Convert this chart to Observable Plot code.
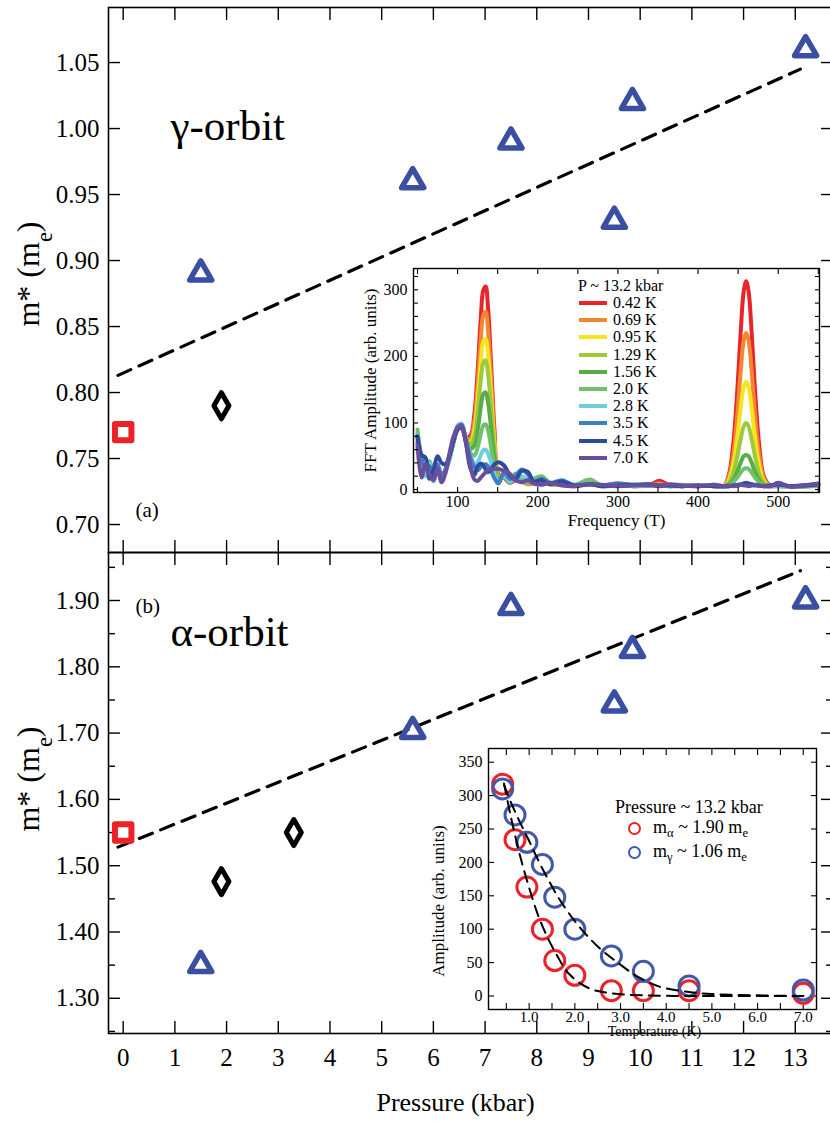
<!DOCTYPE html>
<html><head><meta charset="utf-8">
<script src="https://cdn.jsdelivr.net/npm/d3@7"></script>
<script src="https://cdn.jsdelivr.net/npm/@observablehq/plot@0.6"></script>
<style>
html,body{margin:0;padding:0;background:#fff;}
#fig{position:relative;width:830px;height:1130px;overflow:hidden;background:#fff;font-family:"Liberation Serif","Times New Roman",serif;color:#000;}
.leg{position:absolute;font-family:"Liberation Serif",serif;color:#000;white-space:nowrap;line-height:1;transform:translateY(-50%);}
.sub{font-size:70%;vertical-align:-0.3em;}
</style></head><body><div id="fig"></div>
<script>
// ---------- tick values ----------
const pressureTicks = [0,1,2,3,4,5,6,7,8,9,10,11,12,13];
const gammaTicks = [0.70,0.75,0.80,0.85,0.90,0.95,1.00,1.05];
const alphaTicks = [1.30,1.40,1.50,1.60,1.70,1.80,1.90];
const alphaMinor = [1.25,1.35,1.45,1.55,1.65,1.75,1.85,1.95];

// ---------- panel (a): gamma orbit ----------
const gSquareP = [0], gSquareM = [0.77];
const gDiamondP = [1.9], gDiamondM = [0.79];
const gTriP = [1.5, 5.6, 7.5, 9.5, 9.85, 13.2];
const gTriM = [0.89, 0.96, 0.99, 0.93, 1.02, 1.06];
const gFitP = [-0.1, 13.1], gFitM = [0.813, 1.045];

// ---------- panel (b): alpha orbit ----------
const aSquareP = [0], aSquareM = [1.55];
const aDiamondP = [1.9, 3.3], aDiamondM = [1.476, 1.55];
const aTriP = [1.5, 5.6, 7.5, 9.5, 9.85, 13.2];
const aTriM = [1.35, 1.703, 1.89, 1.743, 1.825, 1.90];
const aFitP = [-0.1, 13.1], aFitM = [1.528, 1.945];

// ---------- inset (a): FFT spectra at P ~ 13.2 kbar ----------
const fftTemps = ["0.42 K","0.69 K","0.95 K","1.29 K","1.56 K","2.0 K","2.8 K","3.5 K","4.5 K","7.0 K"];
const fftColors = ["#e8252b","#f5862f","#f4e51f","#9cca3c","#58ad47","#6fc16a","#6ccde1","#3e7ec6","#2c4b9e","#6a4e9e"];
const fftXTicks = [50,100,150,200,250,300,350,400,450,500,550];
const fftXLabels = [100,200,300,400,500];
const fftYTicks = [0,20,40,60,80,100,120,140,160,180,200,220,240,260,280,300,320];
const fftYLabels = [0,100,200,300];
const fftFreqLow = [50,55,60,65,70,75,80,85,90,95,100,105,110];
const fftFreqGamma = [116,121,125,129,132,135,138,142,146,151];
const fftFreqMid = [158,165,172,180,188,195,205,215,230,245,265,280,300,320,340,352,365,380,400,420,432];
const fftFreqAlpha = [438,444,449,453,457,460,463,467,471,476,482];
const fftFreqHigh = [490,500,515,530,550];
const fftLow = [
  [70,40,25,38,18,30,20,30,50,72,90,95,78],
  [72,42,24,40,17,30,19,30,50,72,91,95,78],
  [75,43,23,40,16,30,18,29,49,72,91,96,78],
  [80,44,22,41,15,30,17,29,48,72,92,96,78],
  [84,45,22,42,14,30,16,28,48,72,92,96,78],
  [90,46,21,42,13,31,15,28,47,72,93,97,77],
  [82,44,20,40,12,28,14,27,46,74,96,99,76],
  [78,48,30,35,20,38,22,30,48,73,94,97,75],
  [80,52,48,16,30,50,40,38,52,74,90,93,72],
  [66,18,38,22,14,32,11,25,55,80,93,96,74]
];
const fftGamma = [
  [81,114,178,258,299,305,273,184,90,23],
  [76,102,157,226,262,267,239,162,80,21],
  [71,90,134,191,222,226,202,137,68,19],
  [67,80,116,165,190,194,174,119,60,17],
  [61,66,89,124,143,146,131,90,46,15],
  [55,51,63,84,96,98,89,62,33,12],
  [51,39,41,52,59,60,54,40,23,10],
  [48,33,29,34,37,38,35,27,17,9],
  [32,22,35,39,36,30,26,30,38,41],
  [35,15,13,18,22,26,29,30,31,31]
];
const fftMid = [
  [18,10,14,12,8,10,12,8,7,5,8,6,9,6,7,13,6,5,6,5,5],
  [20,11,16,12,8,12,14,8,7,6,9,5,7,5,6,9,5,6,5,6,5],
  [20,12,18,13,9,12,15,9,7,6,10,6,6,5,6,7,5,6,5,6,4],
  [22,12,20,14,9,13,16,9,8,6,11,6,7,6,6,7,5,6,5,6,4],
  [22,12,22,15,10,14,18,10,8,6,13,6,7,5,6,6,5,6,5,6,4],
  [24,10,24,15,10,16,20,10,9,6,15,6,8,6,8,6,6,7,5,7,5],
  [22,12,18,20,14,12,14,9,10,6,9,5,6,5,6,6,5,6,5,6,4],
  [26,16,20,30,22,12,16,10,14,7,8,6,9,7,6,6,6,5,6,5,5],
  [36,22,15,28,26,12,14,8,12,6,8,5,6,7,8,6,6,5,6,5,5],
  [28,24,14,11,14,9,7,10,6,5,8,7,5,6,7,5,8,6,5,7,5]
];
const fftAlpha = [
  [20,70,150,233,298,313,298,233,150,70,20],
  [17,53,113,175,224,235,224,175,113,53,17],
  [13,38,79,121,154,162,154,121,79,38,13],
  [10,25,50,75,95,100,95,75,50,25,10],
  [7,15,27,40,50,52,50,40,27,15,7],
  [6,11,18,25,31,32,31,25,18,11,6],
  [5,6,6,7,8,8,8,7,6,6,5],
  [5,6,6,7,8,8,8,7,6,6,5],
  [5,6,7,8,9,10,9,8,7,6,5],
  [6,5,6,7,6,6,5,6,7,6,5]
];
const fftHigh = [
  [6,5,4,5,6],[5,6,4,5,6],[5,6,5,4,6],[6,5,5,4,6],[5,6,5,5,6],
  [6,7,5,6,7],[5,6,4,5,6],[6,7,5,5,7],[6,8,5,6,8],[5,10,4,6,9]
];

// ---------- inset (b): amplitude vs temperature ----------
const ampTemps = [0.42,0.69,0.95,1.29,1.56,2.0,2.8,3.5,4.5,7.0];
const ampAlpha = [317,234,163,100,53,31,8,8,8,4];
const ampGamma = [310,271,230,197,148,100,60,37,15,9];
const fitAlphaT = [0.45,0.6,0.8,1.0,1.2,1.4,1.6,1.86,2.3,2.8,3.5,4.5,5.5,7.0];
const fitAlphaA = [318,268,210,162,120,88,62,34,12,4,1,0,0,0];
const fitGammaT = [0.45,0.6,0.8,1.0,1.2,1.42,1.67,2.0,2.3,2.6,2.9,3.3,3.6,3.9,4.5,5.0,6.0,7.0];
const fitGammaA = [316,290,260,232,203,174,144,112,88,68,52,32,21,13,6,3,1,0];
const tempTicks = [0.5,1.0,1.5,2.0,2.5,3.0,3.5,4.0,4.5,5.0,5.5,6.0,6.5,7.0];
const tempLabels = [1,2,3,4,5,6,7];
const ampTicks = [0,50,100,150,200,250,300,350];
const massAlpha = "1.90", massGamma = "1.06", pressureNote = "13.2";

// ---------- helpers ----------
const FONT = "Liberation Serif";
const RED = "#ec2229", BLUE = "#3a4fa1";
const fig = document.getElementById("fig");
const pts = (P, M) => P.map((p, i) => ({p, m: M[i]}));
const style = {background: "none", fontFamily: FONT, color: "#000", overflow: "visible", maxWidth: "none"};

function place(el, left, top) {
  el.style.position = "absolute";
  el.style.left = left + "px";
  el.style.top = top + "px";
  el.style.maxWidth = "none";
  el.style.background = "none";
  fig.appendChild(el);
  subify(el);
}
function subify(svg) {
  svg.querySelectorAll("text").forEach(t => {
    const targets = t.querySelector("tspan") ? Array.from(t.querySelectorAll("tspan")) : [t];
    targets.forEach(el => {
      const s = el.textContent;
      if (!s.includes("_")) return;
      el.textContent = "";
      s.split(/_(.)/).forEach((part, i) => {
        if (!part) return;
        const ts = document.createElementNS("http://www.w3.org/2000/svg", "tspan");
        ts.textContent = part;
        if (i % 2 === 1) { ts.setAttribute("baseline-shift", "sub"); ts.setAttribute("font-size", "70%"); }
        el.appendChild(ts);
      });
    });
  });
}
function ticksY(values, anchor, size, sw = 1.4) {
  return Plot.axisY(values, {anchor, tickSize: size, dx: anchor === "left" ? size : -size, tickFormat: () => "", label: null, strokeWidth: sw});
}
function ticksX(values, anchor, size, sw = 1.4) {
  return Plot.axisX(values, {anchor, tickSize: size, dy: anchor === "bottom" ? -size : size, tickFormat: () => "", label: null, strokeWidth: sw});
}
function markers(sq, dia, tri) {
  return [
    Plot.dot(sq, {x: "p", y: "m", symbol: "square", r: 9.3, stroke: RED, strokeWidth: 6, fill: "none", strokeLinejoin: "round"}),
    Plot.dot(dia, {x: "p", y: "m", symbol: "diamond", r: 7.9, stroke: "#000", strokeWidth: 5, fill: "none", strokeLinejoin: "round"}),
    Plot.dot(tri, {x: "p", y: "m", symbol: "triangle", r: 8.2, stroke: BLUE, strokeWidth: 5.5, fill: "none", strokeLinejoin: "round"})
  ];
}
const xDomain = [-0.284, 13.72];

// ---------- panel (a) ----------
const panelA = Plot.plot({
  width: 832, height: 560, marginLeft: 108, marginRight: 0, marginTop: 7, marginBottom: 8,
  x: {domain: xDomain}, y: {domain: [0.6788, 1.0917]},
  style,
  marks: [
    Plot.frame({stroke: "#000", strokeWidth: 1.6}),
    Plot.axisY(gammaTicks, {anchor: "left", tickSize: 0, tickPadding: 9, fontSize: 25, tickFormat: ".2f", label: null}),
    ticksY(gammaTicks, "left", 12), ticksY(gammaTicks, "right", 12),
    ticksX(pressureTicks, "top", 12), ticksX(pressureTicks, "bottom", 12),
    Plot.line(pts(gFitP, gFitM), {x: "p", y: "m", stroke: "#000", strokeWidth: 3.2, strokeDasharray: "14,9"}),
    ...markers(pts(gSquareP, gSquareM), pts(gDiamondP, gDiamondM), pts(gTriP, gTriM)),
    Plot.text(["γ-orbit"], {frameAnchor: "top-left", dx: 62, dy: 102, fontSize: 43, textAnchor: "start"}),
    Plot.text(["(a)"], {frameAnchor: "bottom-left", dx: 27, dy: -36, fontSize: 21, textAnchor: "start"}),
    Plot.text(["m* (m_e)"], {frameAnchor: "left", textAnchor: "middle", rotate: -90, dx: -80, dy: -6, fontSize: 32})
  ]
});
place(panelA, 0, 0);

// ---------- panel (b) ----------
const panelB = Plot.plot({
  width: 832, height: 586, marginLeft: 108, marginRight: 0, marginTop: 8, marginBottom: 97,
  x: {domain: xDomain}, y: {domain: [1.2469, 1.9724]},
  style,
  marks: [
    Plot.frame({stroke: "#000", strokeWidth: 1.6}),
    Plot.axisY(alphaTicks, {anchor: "left", tickSize: 0, tickPadding: 9, fontSize: 25, tickFormat: ".2f", label: null}),
    ticksY(alphaTicks, "left", 12), ticksY(alphaTicks, "right", 12),
    ticksY(alphaMinor, "left", 7), ticksY(alphaMinor, "right", 7),
    ticksX(pressureTicks, "top", 12), ticksX(pressureTicks, "bottom", 12),
    Plot.axisX(pressureTicks, {anchor: "bottom", tickSize: 0, tickPadding: 15, fontSize: 25, label: null}),
    Plot.line(pts(aFitP, aFitM), {x: "p", y: "m", stroke: "#000", strokeWidth: 3.2, strokeDasharray: "14,9"}),
    ...markers(pts(aSquareP, aSquareM), pts(aDiamondP, aDiamondM), pts(aTriP, aTriM)),
    Plot.text(["α-orbit"], {frameAnchor: "top-left", dx: 62, dy: 63, fontSize: 43, textAnchor: "start"}),
    Plot.text(["(b)"], {frameAnchor: "top-left", dx: 27, dy: 46, fontSize: 21, textAnchor: "start"}),
    Plot.text(["m* (m_e)"], {frameAnchor: "left", textAnchor: "middle", rotate: -90, dx: -80, dy: -14, fontSize: 32}),
    Plot.text(["Pressure (kbar)"], {frameAnchor: "bottom", dx: -15, dy: 77, fontSize: 26})
  ]
});
place(panelB, 0, 544);

// ---------- inset (a): FFT ----------
const fftRows = [];
fftTemps.forEach((t, k) => {
  const F = [...fftFreqLow, ...fftFreqGamma, ...fftFreqMid, ...fftFreqAlpha, ...fftFreqHigh];
  const A = [...fftLow[k], ...fftGamma[k], ...fftMid[k], ...fftAlpha[k], ...fftHigh[k]];
  F.forEach((f, i) => fftRows.push({t, f, a: A[i]}));
});
const inset1 = Plot.plot({
  width: 467, height: 267, marginLeft: 55, marginRight: 6, marginTop: 8, marginBottom: 35,
  x: {domain: [45, 551.5]}, y: {domain: [-4.5, 332]},
  color: {domain: fftTemps, range: fftColors},
  style,
  marks: [
    Plot.line(fftRows, {x: "f", y: "a", z: "t", stroke: "t", strokeWidth: 4, curve: "catmull-rom"}),
    Plot.frame({stroke: "#000", strokeWidth: 1.4}),
    ticksY(fftYTicks, "left", 5, 1.1), ticksY(fftYTicks, "right", 5, 1.1),
    ticksX(fftXTicks, "top", 5, 1.1), ticksX(fftXTicks, "bottom", 5, 1.1),
    Plot.axisY(fftYLabels, {anchor: "left", tickSize: 0, tickPadding: 6, fontSize: 16, label: null}),
    Plot.axisX(fftXLabels, {anchor: "bottom", tickSize: 0, tickPadding: 3, fontSize: 16, label: null}),
    Plot.text(["FFT Amplitude (arb. units)"], {frameAnchor: "left", textAnchor: "middle", rotate: -90, dx: -43, fontSize: 17}),
    Plot.text(["Frequency (T)"], {frameAnchor: "bottom", dy: 33, fontSize: 17})
  ]
});
place(inset1, 358, 260);

// ---------- inset (b): amplitude vs T ----------
const ampRows = [
  ...ampTemps.map((T, i) => ({s: "alpha", T, A: ampAlpha[i]})),
  ...ampTemps.map((T, i) => ({s: "gamma", T, A: ampGamma[i]}))
];
const fitRows = [
  ...fitAlphaT.map((T, i) => ({s: "alpha", T, A: fitAlphaA[i]})),
  ...fitGammaT.map((T, i) => ({s: "gamma", T, A: fitGammaA[i]}))
];
const inset2 = Plot.plot({
  width: 396, height: 307, marginLeft: 60, marginRight: 8, marginTop: 6, marginBottom: 40,
  x: {domain: [0.11, 7.29]}, y: {domain: [-20.2, 370.5]},
  color: {domain: ["alpha", "gamma"], range: [RED, "#4259a9"]},
  style,
  marks: [
    Plot.frame({stroke: "#000", strokeWidth: 1.4}),
    ticksY(ampTicks, "left", 6, 1.1), ticksY(ampTicks, "right", 6, 1.1),
    ticksX(tempTicks, "top", 6, 1.1), ticksX(tempTicks, "bottom", 6, 1.1),
    Plot.axisY(ampTicks, {anchor: "left", tickSize: 0, tickPadding: 6, fontSize: 16, label: null}),
    Plot.axisX(tempLabels, {anchor: "bottom", tickSize: 0, tickPadding: 2, fontSize: 15, tickFormat: ".1f", label: null}),
    Plot.dot(ampRows, {x: "T", y: "A", stroke: "s", r: 10, strokeWidth: 3, fill: "none"}),
    Plot.line(fitRows, {x: "T", y: "A", z: "s", stroke: "#000", strokeWidth: 2, strokeDasharray: "11,7", curve: "catmull-rom"}),
    Plot.text(["Amplitude (arb. units)"], {frameAnchor: "left", textAnchor: "middle", rotate: -90, dx: -50, dy: 22, fontSize: 17}),
    Plot.text(["Temperature (K)"], {frameAnchor: "bottom", dx: 2, dy: 26.5, fontSize: 14})
  ]
});
place(inset2, 428, 742);

// ---------- legends ----------
function addText(html, left, top, size) {
  const d = document.createElement("div");
  d.className = "leg";
  d.innerHTML = html;
  d.style.left = left + "px"; d.style.top = top + "px"; d.style.fontSize = size + "px";
  fig.appendChild(d);
  return d;
}
addText(`P ~ ${pressureNote} kbar`, 578, 286, 16);
fftTemps.forEach((t, i) => {
  const y = 303 + 17.2 * i;
  const sw = document.createElement("div");
  sw.style.cssText = `position:absolute;left:579px;top:${y - 2}px;width:28px;height:4px;background:${fftColors[i]};`;
  fig.appendChild(sw);
  addText(t, 613, y, 16);
});
addText(`Pressure ~ ${pressureNote} kbar`, 615, 807, 18);
[[RED, "α", massAlpha, 829], ["#4259a9", "γ", massGamma, 853]].forEach(([c, g, m, y]) => {
  const ci = document.createElement("div");
  ci.style.cssText = `position:absolute;left:${635 - 7}px;top:${y - 7}px;width:9px;height:9px;border:2.5px solid ${c};border-radius:50%;`;
  fig.appendChild(ci);
  addText(`m<span class="sub">${g}</span> ~ ${m} m<span class="sub">e</span>`, 653, y, 18);
});
</script></body></html>
